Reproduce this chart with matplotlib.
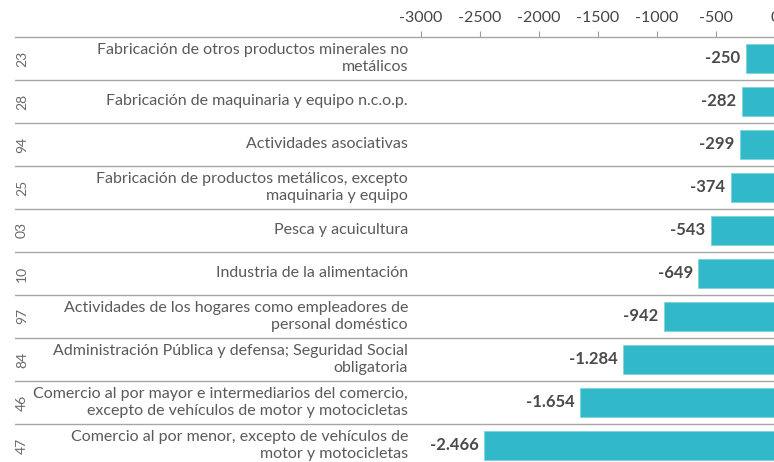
import matplotlib.pyplot as plt
import matplotlib.transforms as mtransforms

plt.rcParams["font.family"] = ["Lato", "DejaVu Sans"]

codes = ["23", "28", "94", "25", "03", "10", "97", "84", "46", "47"]
sectores = [
    "Fabricación de otros productos minerales no\nmetálicos",
    "Fabricación de maquinaria y equipo n.c.o.p.",
    "Actividades asociativas",
    "Fabricación de productos metálicos, excepto\nmaquinaria y equipo",
    "Pesca y acuicultura",
    "Industria de la alimentación",
    "Actividades de los hogares como empleadores de\npersonal doméstico",
    "Administración Pública y defensa; Seguridad Social\nobligatoria",
    "Comercio al por mayor e intermediarios del comercio,\nexcepto de vehículos de motor y motocicletas",
    "Comercio al por menor, excepto de vehículos de\nmotor y motocicletas",
]
valores = [-250, -282, -299, -374, -543, -649, -942, -1284, -1654, -2466]
ticks = [-3000, -2500, -2000, -1500, -1000, -500, 0]

W, H = 774, 462
fig = plt.figure(figsize=(W / 100, H / 100), dpi=100)
# axes covers the whole table, from the code column to the (cut) zero line
ax = fig.add_axes([15 / W, -5 / H, 760 / W, 430 / H])

px_per_unit = 354 / 3000
left = -3000 - (421 - 15) / px_per_unit
ax.set_xlim(left, 0)
ax.set_ylim(len(valores) - 0.5, -0.5)

y = list(range(len(valores)))
ax.barh(y, valores, height=0.66, color="#31b8c9", edgecolor="#7fd3de", linewidth=0.6)

for i in y:
    ax.axhline(i + 0.5, color="#a6a6a6", lw=1, zorder=0)

trans = mtransforms.blended_transform_factory(fig.transFigure, ax.transData)
for i, (c, s, v) in enumerate(zip(codes, sectores, valores)):
    ax.text(22 / W, i, c, transform=trans, rotation=90, ha="center", va="center",
            fontsize=10, color="#6a6a6a")
    ax.text(408 / W, i, s, transform=trans, ha="right", va="center",
            fontsize=11.5, color="#5a5a5a", linespacing=1.2)
    lab = "{:,}".format(v).replace(",", ".")
    ax.text(v - 45, i, lab, ha="right", va="center", fontsize=12,
            fontweight="bold", color="#4a4a4a")

ax.xaxis.tick_top()
ax.set_xticks(ticks)
ax.set_xticklabels([str(t) for t in ticks])
ax.tick_params(axis="x", top=True, bottom=False, length=4, width=0.8,
               color="#999999", labelsize=11.5, labelcolor="#444444", pad=5)
ax.set_yticks([])
for sp in ["left", "right", "bottom"]:
    ax.spines[sp].set_visible(False)
ax.spines["top"].set_color("#a6a6a6")
ax.spines["top"].set_linewidth(1)

fig.savefig("out.png", dpi=100)
